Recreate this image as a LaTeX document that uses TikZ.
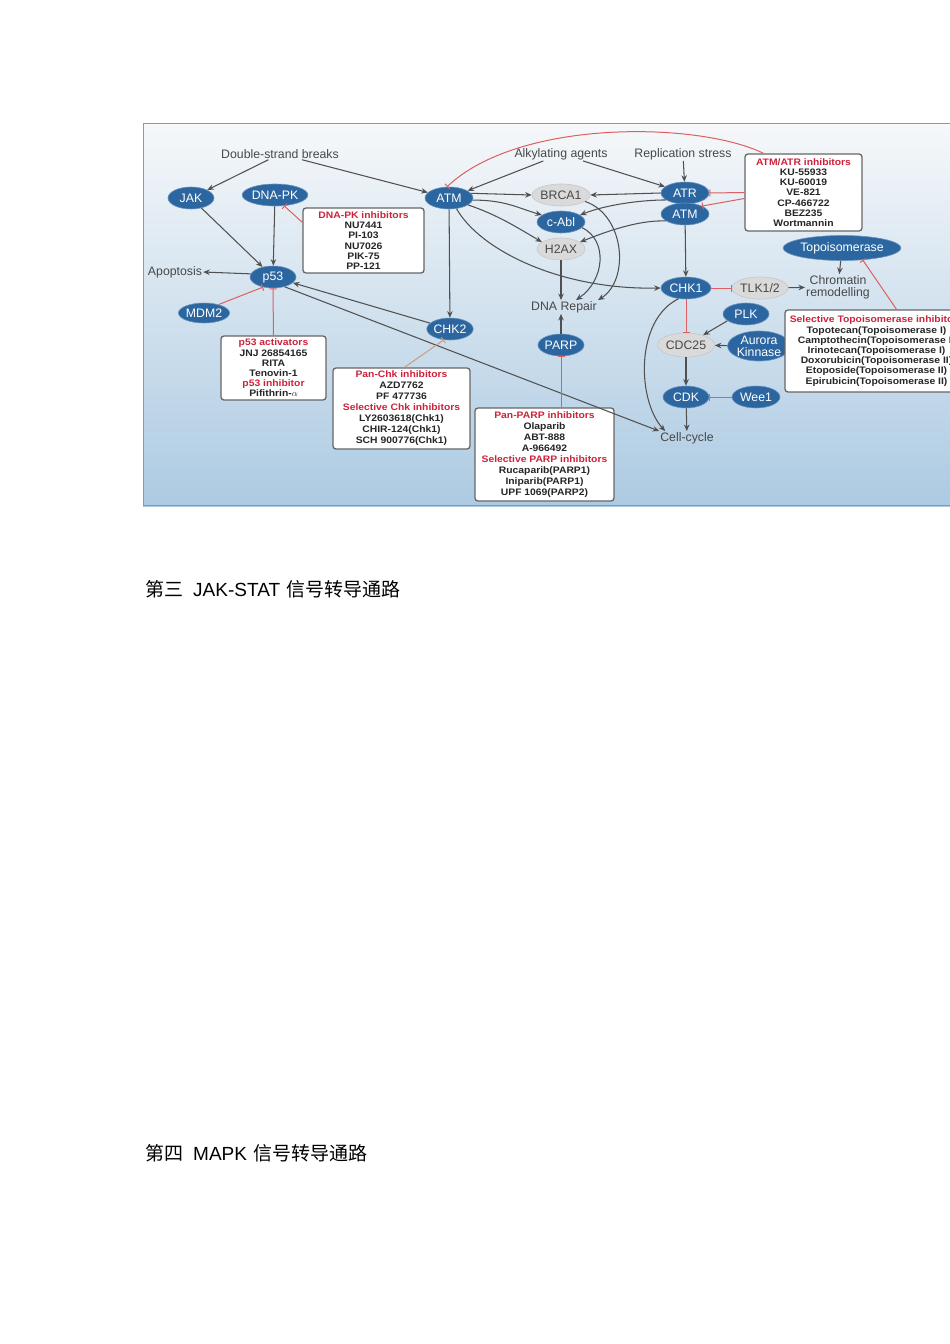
\documentclass[tikz,border=0pt]{standalone}
\usepackage{fontspec}
\setmainfont{Liberation Sans}
\newfontfamily\cjk{Noto Sans CJK SC}
\newfontfamily\bxf[FakeStretch=1.1]{Liberation Sans}
\usetikzlibrary{arrows.meta,shapes.geometric}
\definecolor{nodeblue}{RGB}{44,102,160}
\definecolor{nodegray}{RGB}{218,218,218}
\definecolor{linegray}{RGB}{80,80,80}
\definecolor{inhred}{RGB}{222,95,95}
\definecolor{titred}{RGB}{206,34,60}
\definecolor{txtgray}{RGB}{72,72,72}
\definecolor{framegray}{RGB}{150,150,150}
\definecolor{tanline}{RGB}{205,155,125}
\definecolor{bgtop}{RGB}{246,248,250}
\definecolor{bgbot}{RGB}{172,202,226}
\tikzset{
  nfont/.style={font=\fontsize{12.3}{12}\selectfont},
  bnode/.style={ellipse, fill=nodeblue, draw=nodeblue!70!white, line width=0.6pt, text=white, inner sep=0pt, nfont},
  gnode/.style={ellipse, fill=nodegray, draw=black!22, line width=0.6pt, text=txtgray, inner sep=0pt, nfont},
  lbl/.style={text=txtgray, inner sep=1pt, nfont},
  arr/.style={draw=linegray, line width=1.05pt, -{Stealth[length=6.5pt,width=5.5pt]}},
  inh/.style={draw=inhred, line width=1pt, -{Bar[width=7pt,line width=1pt]}},
  ibox/.style={draw=black!60, fill=white, rounded corners=3pt, line width=1.3pt,
    inner sep=0pt, align=center, text=black!85,
    font=\bxf\bfseries\fontsize{9.4}{10.2}\selectfont},
  ibox11/.style={ibox, font=\bxf\bfseries\fontsize{9.4}{11}\selectfont},
  hd/.style={anchor=base west, inner sep=0pt, text=black, font=\fontsize{19}{20}\selectfont}
}
\newcommand{\rt}[1]{\textcolor{titred}{#1}}
\begin{document}
\begin{tikzpicture}[x=1pt,y=-1pt]
\useasboundingbox (0,0) rectangle (950,1344);
\fill[white] (0,0) rectangle (950,1344);
\begin{scope}
\clip (143,123) rectangle (950,506);
\shade[top color=bgtop, bottom color=bgbot] (143,123) rectangle (950,506);
\draw[framegray, line width=1.2pt] (143.6,123.6) rectangle (965,505.4);

% text labels
\node[lbl] (dsb) at (280,154) {Double-strand breaks};
\node[lbl] (alk) at (561,154) {Alkylating agents};
\node[lbl] (rep) at (683,154) {Replication stress};
\node[lbl] (apop) at (175,272) {Apoptosis};
\node[lbl] (repair) at (564,307) {DNA Repair};
\node[lbl] (cc) at (687,438) {Cell-cycle};
\node[lbl, align=center, font=\fontsize{12.3}{12}\selectfont] (chrom) at (838,287) {Chromatin\\remodelling};

% ellipses
\node[bnode, minimum width=46pt, minimum height=22pt] (jak) at (191,198) {JAK};
\node[bnode, minimum width=56pt, minimum height=22pt] (dnapk) at (275,195) {DNA-PK};
\node[bnode, minimum width=48pt, minimum height=22pt] (atm1) at (449,198) {ATM};
\node[gnode, minimum width=52pt, minimum height=22pt] (brca1) at (561,195) {BRCA1};
\node[bnode, minimum width=48pt, minimum height=22pt] (cabl) at (561,222) {c-Abl};
\node[gnode, minimum width=48pt, minimum height=22pt] (h2ax) at (561,249) {H2AX};
\node[bnode, minimum width=48pt, minimum height=22pt] (atr) at (685,193) {ATR};
\node[bnode, minimum width=48pt, minimum height=22pt] (atm2) at (685,214) {ATM};
\node[bnode, minimum width=88pt, minimum height=25pt] (topo) at (842,248) {Topoisomerase};
\node[bnode, minimum width=46pt, minimum height=22pt] (p53) at (273,277) {p53};
\node[bnode, minimum width=46pt, minimum height=20pt] (mdm2) at (204,313) {MDM2};
\node[bnode, minimum width=46pt, minimum height=22pt] (chk2) at (450,329) {CHK2};
\node[bnode, minimum width=46pt, minimum height=22pt] (parp) at (561,345) {PARP};
\node[bnode, minimum width=50pt, minimum height=22pt] (chk1) at (686,288) {CHK1};
\node[gnode, minimum width=50pt, minimum height=22pt] (tlk) at (760,288) {TLK1/2};
\node[bnode, minimum width=46pt, minimum height=22pt] (plk) at (746,314) {PLK};
\node[gnode, minimum width=50pt, minimum height=24pt] (cdc25) at (686,345) {CDC25};
\node[bnode, align=center, minimum width=50pt, minimum height=30pt, font=\fontsize{12.3}{12}\selectfont] (aur) at (759,346) {Aurora\\Kinnase};
\node[bnode, minimum width=46pt, minimum height=22pt] (cdk) at (686,397) {CDK};
\node[bnode, minimum width=48pt, minimum height=22pt] (wee1) at (756,397) {Wee1};

% inhibitor boxes
\node[ibox, minimum width=121pt, minimum height=65pt] (dnapkbox) at (363.5,240.5)
  {\rt{DNA-PK inhibitors}\\NU7441\\PI-103\\NU7026\\PIK-75\\PP-121};
\node[ibox, minimum width=117pt, minimum height=77pt] (atrbox) at (803.5,192.5)
  {\rt{ATM/ATR inhibitors}\\KU-55933\\KU-60019\\VE-821\\CP-466722\\BEZ235\\Wortmannin};
\node[ibox, minimum width=105pt, minimum height=64pt] (p53box) at (273.5,368)
  {\rt{p53 activators}\\JNJ 26854165\\RITA\\Tenovin-1\\\rt{p53 inhibitor}\\Pifithrin-$\alpha$};
\node[ibox11, minimum width=137pt, minimum height=81pt] (chkbox) at (401.5,408.5)
  {\rt{Pan-Chk inhibitors}\\AZD7762\\PF 477736\\\rt{Selective Chk inhibitors}\\LY2603618(Chk1)\\CHIR-124(Chk1)\\SCH 900776(Chk1)};
\node[ibox11, minimum width=139pt, minimum height=93pt] (parpbox) at (544.5,454.5)
  {\rt{Pan-PARP inhibitors}\\Olaparib\\ABT-888\\A-966492\\\rt{Selective PARP inhibitors}\\Rucaparib(PARP1)\\Iniparib(PARP1)\\UPF 1069(PARP2)};
\node[ibox, minimum width=183pt, minimum height=82pt] (topobox) at (876.5,351)
  {\rt{Selective Topoisomerase inhibitors}\\Topotecan(Topoisomerase I)\\Camptothecin(Topoisomerase I)\\Irinotecan(Topoisomerase I)\\Doxorubicin(Topoisomerase II)\\Etoposide(Topoisomerase II)\\Epirubicin(Topoisomerase II)};

% activation arrows
\draw[arr] (dsb) -- (jak);
\draw[arr] (dsb) -- (atm1);
\draw[arr] (alk) -- (atm1);
\draw[arr] (alk) -- (atr);
\draw[arr] (rep) -- (atr);
\draw[arr] (jak) -- (p53);
\draw[arr] (dnapk) -- (p53);
\draw[arr] (p53.172) -- (apop.east);
\draw[arr] (chk2) -- (p53);
\draw[arr] (p53.-40) -- (cc.north west);
\draw[arr] (atm1) -- (chk2);
\draw[arr] (atm1.12) -- (brca1.west);
\draw[arr] (atm1.-5) .. controls (505,200) and (518,208) .. (cabl.160);
\draw[arr] (atm1.-20) .. controls (498,215) and (518,228) .. (h2ax.160);
\draw[arr] (atm1.-55) .. controls (480,250) and (560,290) .. (chk1.west);
\draw[arr] (atr.west) -- (brca1.east);
\draw[arr] (atr.200) .. controls (640,200) and (605,205) .. (cabl.20);
\draw[arr] (atm2.200) .. controls (640,220) and (610,230) .. (h2ax.20);
\draw[arr] (atm2) -- (chk1);
\draw[arr] (h2ax.south) -- (h2ax.south |- repair.north);
\draw[arr] (brca1.-15) .. controls (625,215) and (630,280) .. (repair.north east);
\draw[arr] (cabl.-15) .. controls (608,240) and (605,280) .. ([xshift=12pt]repair.north);
\draw[arr] (parp.north) -- (parp.north |- repair.south);
\draw[arr] (tlk) -- (chrom);
\draw[arr] (topo) -- (chrom);
\draw[arr] (plk.200) -- (cdc25.30);
\draw[arr] (aur) -- (cdc25);
\draw[arr] (cdc25) -- (cdk);
\draw[arr] (cdk) -- (cc);
\draw[arr] (chk1.235) .. controls (635,320) and (637,400) .. ([xshift=6pt]cc.north west);

% inhibitions
\draw[inh] ([yshift=-15pt]dnapkbox.north west) -- (dnapk.-50);
\draw[inh] (mdm2.30) -- (p53.225);
\draw[inh] (p53box.north) -- (p53.south);
\draw[inh, draw=tanline] ([xshift=3pt]chkbox.north) -- (chk2.240);
\draw[inh] (parp.south |- parpbox.north) -- (parp.south);
\draw[inh] (atrbox.west) -- (atr.east);
\draw[inh] ([yshift=-6pt]atrbox.west) -- (atm2.25);
\draw[inh] ([xshift=-40pt]atrbox.north) .. controls (700,122) and (520,118) .. (atm1.100);
\draw[inh] (chk1) -- (tlk);
\draw[inh] ([xshift=20pt]topobox.north) -- (topo.-30);
\draw[inh] (chk1) -- (cdc25);
\draw[inh] (wee1) -- (cdk);
\end{scope}

% headings
\node[hd] (h3) at (145,596) {{\cjk 第三}\hspace{10pt}JAK-STAT\hspace{6pt}{\cjk 信号转导通路}};
\node[hd] (h4) at (145,1160) {{\cjk 第四}\hspace{10pt}MAPK\hspace{6pt}{\cjk 信号转导通路}};
\end{tikzpicture}
\end{document}
